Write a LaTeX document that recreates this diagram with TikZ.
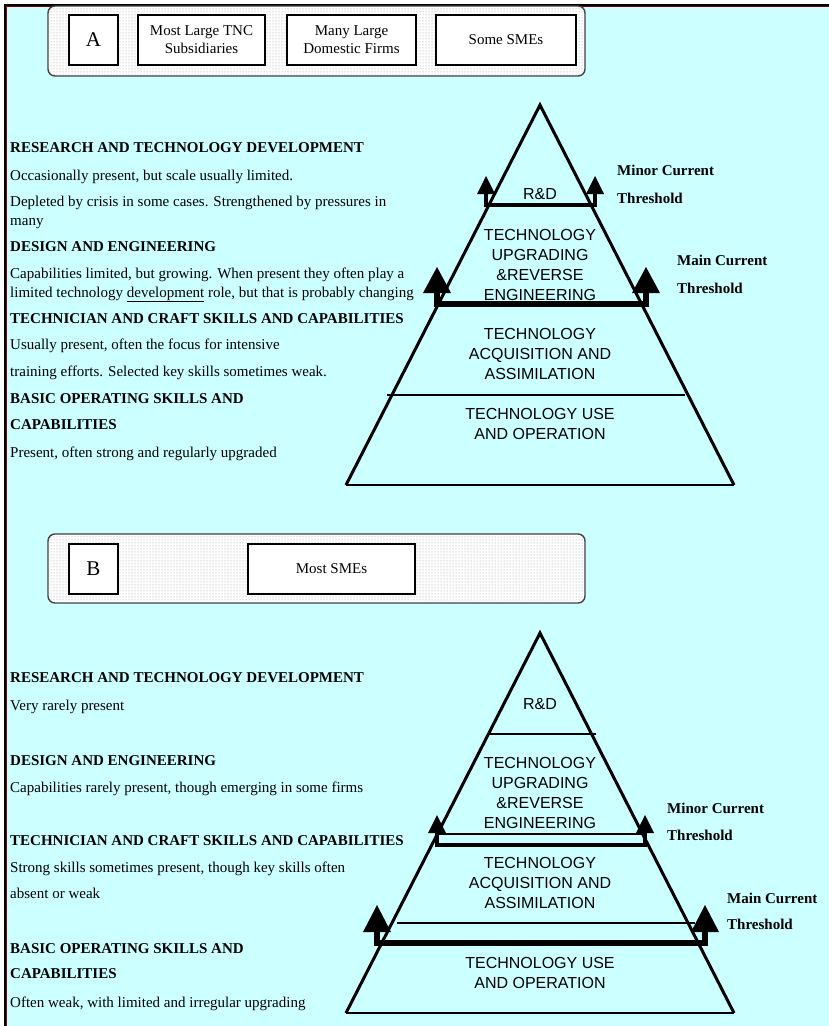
\documentclass[tikz,border=0pt]{standalone}
\usepackage{fontspec}
\setmainfont{Liberation Serif}
\newfontfamily\arialf{Liberation Sans}
\usetikzlibrary{patterns}
\definecolor{bgcyan}{RGB}{204,255,255}
\definecolor{edgered}{RGB}{128,0,0}
\begin{document}
\begin{tikzpicture}[x=1pt,y=-1pt,
  frame/.style={draw=black!75, line width=1.4pt, rounded corners=7pt, fill=white,
    postaction={pattern=dots, pattern color=gray!80}},
  firmbox/.style={draw, line width=1.4pt, fill=white, inner sep=0pt, align=center,
    minimum height=50pt, font=\fontsize{15}{18}\selectfont},
  letterbox/.style={firmbox, minimum width=49pt, font=\fontsize{21}{23}\selectfont},
  pyr/.style={line width=3pt, line join=miter},
  sep/.style={line width=2pt},
  minorthr/.style={line width=3.5pt, line join=miter},
  mainthr/.style={line width=6.5pt, line join=miter},
  head/.style={fill=black},
  plbl/.style={anchor=base, inner sep=0pt, font=\arialf\fontsize{16}{19}\selectfont},
  thr/.style={anchor=base west, inner sep=0pt, font=\bfseries\fontsize{15}{18}\selectfont},
  hd/.style={anchor=base west, inner sep=0pt, font=\bfseries\fontsize{15}{18}\selectfont},
  tx/.style={anchor=base west, inner sep=0pt, font=\fontsize{15}{18}\selectfont}]
\useasboundingbox (0,0) rectangle (829,1026);
\fill[white] (0,0) rectangle (829,1026);
\fill[bgcyan] (6,6) rectangle (829,1026);
\draw[line width=1.5pt] (5,1026) -- (5,5) -- (829,5);
\draw[line width=1pt, edgered] (6.8,1026) -- (6.8,6.8) -- (829,6.8);

% ---------- Frame A ----------
\path[frame] (48,6) rectangle (585,76);
\node[letterbox] (boxA) at (93.5,40) {A};
\node[firmbox, minimum width=127pt] (tnc) at (201.5,40) {Most Large TNC\\Subsidiaries};
\node[firmbox, minimum width=129pt] (dom) at (351.5,40) {Many Large\\Domestic Firms};
\node[firmbox, minimum width=140pt] (sme) at (506,40) {Some SMEs};

% ---------- Pyramid A ----------
\draw[pyr] (346,485) -- (540,105) -- (734,485);
\draw[line width=2.5pt] (346,485) -- (734,485);
\draw[sep] (387,395) -- (685,395);
% minor threshold
\draw[minorthr] (486,192) -- (486,205) -- (595,205) -- (595,192);
\fill[head] (477,194) -- (486,176) -- (495,194) -- cycle;
\fill[head] (586,194) -- (595,176) -- (604,194) -- cycle;
% main threshold
\draw[mainthr] (437,290) -- (437,304) -- (646,304) -- (646,290);
\fill[head] (423,293) -- (437,267) -- (451,293) -- cycle;
\fill[head] (632,293) -- (646,267) -- (660,293) -- cycle;
% labels
\node[plbl] (aRD) at (540,199) {R\&D};
\node[plbl] (aU1) at (540,240) {TECHNOLOGY};
\node[plbl] (aU2) at (540,260) {UPGRADING};
\node[plbl] (aU3) at (540,280) {\&REVERSE};
\node[plbl] (aU4) at (540,300) {ENGINEERING};
\node[plbl] (aA1) at (540,339) {TECHNOLOGY};
\node[plbl] (aA2) at (540,359) {ACQUISITION AND};
\node[plbl] (aA3) at (540,379) {ASSIMILATION};
\node[plbl] (aO1) at (540,419) {TECHNOLOGY USE};
\node[plbl] (aO2) at (540,439) {AND OPERATION};
\node[thr] (aMi1) at (617,175) {Minor Current};
\node[thr] (aMi2) at (617,203) {Threshold};
\node[thr] (aMa1) at (677,265) {Main Current};
\node[thr] (aMa2) at (677,293) {Threshold};

% ---------- Left text A ----------
\node[hd] (a1) at (10,152) {RESEARCH AND TECHNOLOGY DEVELOPMENT};
\node[tx] (a2) at (10,180) {Occasionally present, but scale usually limited.};
\node[tx] (a3) at (10,206) {Depleted by crisis in some cases. Strengthened by pressures in};
\node[tx] (a4) at (10,225) {many};
\node[hd] (a5) at (10,251) {DESIGN AND ENGINEERING};
\node[tx] (a6) at (10,278) {Capabilities limited, but growing. When present they often play a};
\node[tx] (a7) at (10,297) {limited technology \underline{development} role, but that is probably changing};
\node[hd] (a8) at (10,323) {TECHNICIAN AND CRAFT SKILLS AND CAPABILITIES};
\node[tx] (a9) at (10,349) {Usually present, often the focus for intensive};
\node[tx] (a10) at (10,376) {training efforts. Selected key skills sometimes weak.};
\node[hd] (a11) at (10,403) {BASIC OPERATING SKILLS AND};
\node[hd] (a12) at (10,429) {CAPABILITIES};
\node[tx] (a13) at (10,457) {Present, often strong and regularly upgraded};

% ---------- Frame B ----------
\path[frame] (48,534) rectangle (585,603);
\node[letterbox] (boxB) at (93.5,569) {B};
\node[firmbox, minimum width=167pt] (msme) at (331.5,569) {Most SMEs};

% ---------- Pyramid B ----------
\draw[pyr] (346,1013) -- (540,633) -- (734,1013);
\draw[line width=2.5pt] (346,1013) -- (734,1013);
\draw[sep] (487,734) -- (596,734);
\draw[sep] (437,834) -- (645,834);
\draw[sep] (397,923) -- (695,923);
% minor threshold
\draw[minorthr] (437,832) -- (437,845) -- (645,845) -- (645,832);
\fill[head] (428,833) -- (437,815) -- (446,833) -- cycle;
\fill[head] (636,833) -- (645,815) -- (654,833) -- cycle;
% main threshold
\draw[mainthr] (377,930) -- (377,943) -- (705,943) -- (705,930);
\fill[head] (363,932) -- (377,905) -- (391,932) -- cycle;
\fill[head] (691,932) -- (705,905) -- (719,932) -- cycle;
% labels
\node[plbl] (bRD) at (540,709) {R\&D};
\node[plbl] (bU1) at (540,768) {TECHNOLOGY};
\node[plbl] (bU2) at (540,788) {UPGRADING};
\node[plbl] (bU3) at (540,808) {\&REVERSE};
\node[plbl] (bU4) at (540,828) {ENGINEERING};
\node[plbl] (bA1) at (540,868) {TECHNOLOGY};
\node[plbl] (bA2) at (540,888) {ACQUISITION AND};
\node[plbl] (bA3) at (540,908) {ASSIMILATION};
\node[plbl] (bO1) at (540,968) {TECHNOLOGY USE};
\node[plbl] (bO2) at (540,988) {AND OPERATION};
\node[thr] (bMi1) at (667,813) {Minor Current};
\node[thr] (bMi2) at (667,840) {Threshold};
\node[thr] (bMa1) at (727,903) {Main Current};
\node[thr] (bMa2) at (727,929) {Threshold};

% ---------- Left text B ----------
\node[hd] (b1) at (10,682) {RESEARCH AND TECHNOLOGY DEVELOPMENT};
\node[tx] (b2) at (10,710) {Very rarely present};
\node[hd] (b3) at (10,765) {DESIGN AND ENGINEERING};
\node[tx] (b4) at (10,792) {Capabilities rarely present, though emerging in some firms};
\node[hd] (b5) at (10,845) {TECHNICIAN AND CRAFT SKILLS AND CAPABILITIES};
\node[tx] (b6) at (10,872) {Strong skills sometimes present, though key skills often};
\node[tx] (b7) at (10,898) {absent or weak};
\node[hd] (b8) at (10,953) {BASIC OPERATING SKILLS AND};
\node[hd] (b9) at (10,978) {CAPABILITIES};
\node[tx] (b10) at (10,1007) {Often weak, with limited and irregular upgrading};
\end{tikzpicture}
\end{document}
